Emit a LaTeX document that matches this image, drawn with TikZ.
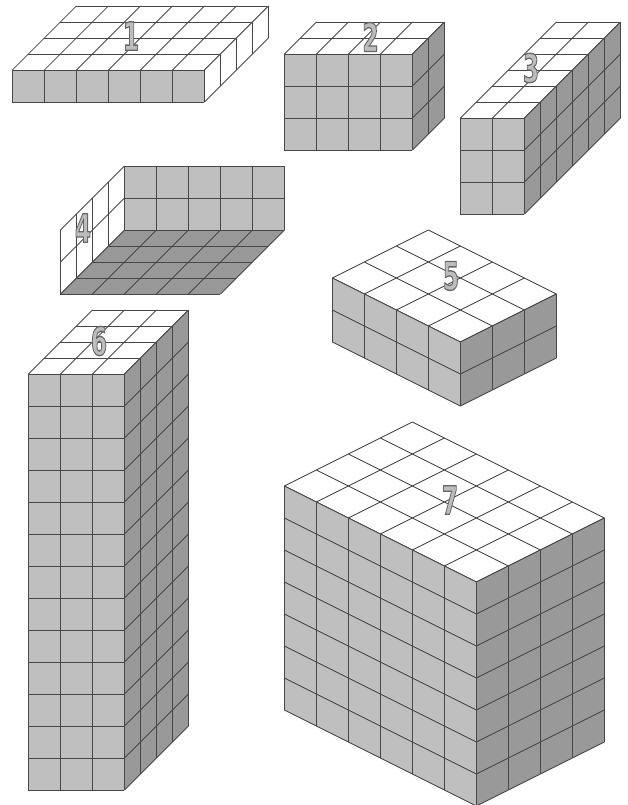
\documentclass[tikz,border=0pt]{standalone}
\usepackage{fontspec}
\newfontfamily\digitfont{DejaVu Sans Bold}
\usetikzlibrary{positioning}
\tikzset{
  cubeline/.style={draw=black!72, line width=0.85pt, line join=round},
  digit/.style={inner sep=0pt, xscale=0.6, font=\digitfont\fontsize{39}{39}\selectfont},
}
% one face of a box: origin, first step, second step, counts, fill
\newcommand{\gridface}[9]{
  \fill[#9] (#1,#2) -- ++({#7*#3},{#7*#4}) -- ++({#8*#5},{#8*#6}) -- ++({-#7*#3},{-#7*#4}) -- cycle;
  \foreach \i in {0,...,#7}
    \draw[cubeline] ({#1+\i*#3},{#2+\i*#4}) -- ++({#8*#5},{#8*#6});
  \foreach \j in {0,...,#8}
    \draw[cubeline] ({#1+\j*#5},{#2+\j*#6}) -- ++({#7*#3},{#7*#4});
}
% grey digit with a darker outline
\newcommand{\outlined}[1]{\special{pdf:code 2 Tr 1.3 w 0.4 G 0.74 g}#1\special{pdf:code 0 Tr 0 G 0 g}}
\definecolor{facelight}{gray}{0.75}
\definecolor{facedark}{gray}{0.6}
\begin{document}
\begin{tikzpicture}[x=1pt,y=-1pt]
  \useasboundingbox (0,0) rectangle (627,805);
  % Box 1
  \gridface{12.4}{70}{32}{0}{16}{-16}{6}{4}{white}
  \gridface{12.4}{70}{32}{0}{0}{32}{6}{1}{facelight}
  \gridface{204.4}{70}{16}{-16}{0}{32}{4}{1}{white}
  % Box 2
  \gridface{284.4}{54}{32}{0}{16}{-16}{4}{2}{white}
  \gridface{284.4}{54}{32}{0}{0}{32}{4}{3}{facelight}
  \gridface{412.4}{54}{16}{-16}{0}{32}{2}{3}{facedark}
  % Box 3
  \gridface{460.4}{118}{32}{0}{16}{-16}{2}{6}{white}
  \gridface{460.4}{118}{32}{0}{0}{32}{2}{3}{facelight}
  \gridface{524.4}{118}{16}{-16}{0}{32}{6}{3}{facedark}
  % Box 4, open
  \gridface{124.4}{166}{32}{0}{0}{32}{5}{2}{facelight}
  \gridface{60.4}{294}{32}{0}{16}{-16}{5}{4}{facedark}
  \gridface{60.4}{230}{16}{-16}{0}{32}{4}{2}{white}
  % Box 5
  \gridface{332.4}{278}{32}{16}{32}{-16}{4}{3}{white}
  \gridface{332.4}{278}{32}{16}{0}{32}{4}{2}{facelight}
  \gridface{460.4}{342}{32}{-16}{0}{32}{3}{2}{facedark}
  % Box 6
  \gridface{28.4}{374}{32}{0}{16}{-16}{3}{4}{white}
  \gridface{28.4}{374}{32}{0}{0}{32}{3}{13}{facelight}
  \gridface{124.4}{374}{16}{-16}{0}{32}{4}{13}{facedark}
  % Box 7
  \gridface{284.4}{486}{32}{16}{32}{-16}{6}{4}{white}
  \gridface{284.4}{486}{32}{16}{0}{32}{6}{7}{facelight}
  \gridface{476.4}{582}{32}{-16}{0}{32}{4}{7}{facedark}
  % Numbers
  \node[digit] (n1) at (131,36) {\outlined{1}};
  \node[digit] (n2) at (370.5,37) {\outlined{2}};
  \node[digit] (n3) at (531,68) {\outlined{3}};
  \node[digit] (n4) at (83,228) {\outlined{4}};
  \node[digit] (n5) at (451,276) {\outlined{5}};
  \node[digit] (n6) at (99,341) {\outlined{6}};
  \node[digit] (n7) at (450,500) {\outlined{7}};
\end{tikzpicture}
\end{document}
